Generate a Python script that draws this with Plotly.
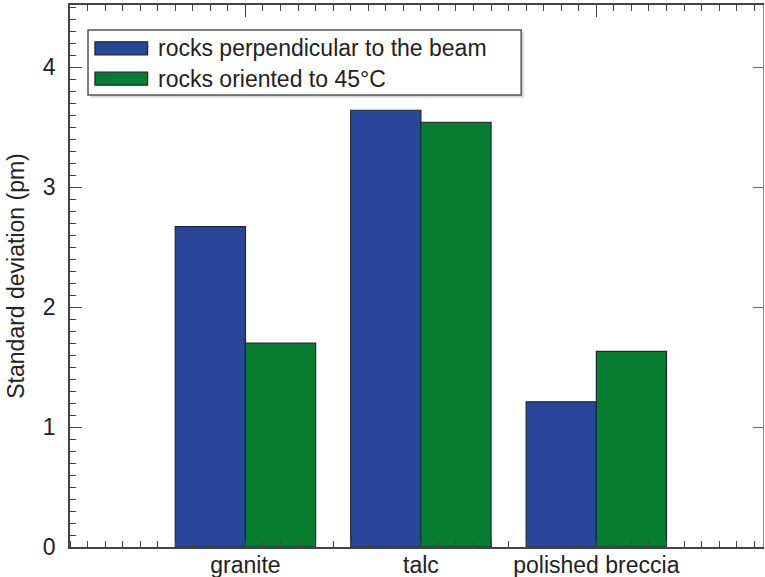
import plotly.graph_objects as go

categories = ["granite", "talc", "polished breccia"]
cat_pos = [1, 2, 3]
perpendicular = [2.67, 3.64, 1.21]
oriented45 = [1.70, 3.54, 1.63]
series_names = ["rocks perpendicular to the beam", "rocks oriented to 45°C"]

blue = "#28479b"
green = "#067d31"
edge = "#1b2633"
font = "Liberation Sans, Arial, sans-serif"
fs = 23

fig = go.Figure()
fig.add_trace(go.Bar(x=cat_pos, y=perpendicular, name=series_names[0],
                     marker=dict(color=blue, line=dict(color=edge, width=1.2))))
fig.add_trace(go.Bar(x=cat_pos, y=oriented45, name=series_names[1],
                     marker=dict(color=green, line=dict(color=edge, width=1.2))))
fig.add_trace(go.Scatter(x=[None], y=[None], xaxis="x2", yaxis="y2",
                         showlegend=False, hoverinfo="skip"))

# custom legend (wide swatches like the original)
shapes = [
    dict(type="rect", xref="paper", yref="paper", x0=0.030, x1=0.655, y0=0.829, y1=0.950,
         line=dict(width=0), fillcolor="#d8d8d8", layer="above"),
    dict(type="rect", xref="paper", yref="paper", x0=0.026, x1=0.651, y0=0.834, y1=0.954,
         line=dict(color="#555", width=1.5), fillcolor="white", layer="above"),
]
swatch_y = [(0.908, 0.932), (0.852, 0.876)]
colors = [blue, green]
annotations = []
for (y0, y1), c, name in zip(swatch_y, colors, series_names):
    shapes.append(dict(type="rect", xref="paper", yref="paper", x0=0.036, x1=0.112,
                       y0=y0, y1=y1, fillcolor=c, line=dict(color=edge, width=1.2),
                       layer="above"))
    annotations.append(dict(xref="paper", yref="paper", x=0.124, y=(y0 + y1) / 2,
                            xanchor="left", yanchor="middle", text=name, showarrow=False,
                            font=dict(size=fs, family=font, color="#222")))

fig.update_layout(
    width=765, height=577,
    margin=dict(l=70, r=2, t=5, b=30),
    paper_bgcolor="white", plot_bgcolor="white",
    barmode="group", bargap=0.2, bargroupgap=0,
    font=dict(family=font, size=fs, color="#222"),
    showlegend=False,
    shapes=shapes, annotations=annotations,
    xaxis=dict(range=[0, 3.95], tickmode="array", tickvals=cat_pos, ticktext=categories,
               ticks="", showgrid=False, zeroline=False, automargin=False,
               showline=True, linecolor="#444", linewidth=1.5,
               ticklabelstandoff=-3,
               tickfont=dict(size=fs, family=font, color="#222"),
               minor=dict(ticks="inside", ticklen=6, tickwidth=1, tickcolor="#444",
                          dtick=0.1, tick0=0, showgrid=False)),
    xaxis2=dict(range=[0, 3.95], overlaying="x", side="top", showticklabels=False,
                ticks="inside", ticklen=12, tickwidth=1.2, tickcolor="#444",
                tick0=1, dtick=2, showgrid=False, zeroline=False, automargin=False,
                showline=True, linecolor="#444", linewidth=1.5,
                minor=dict(ticks="inside", ticklen=6, tickwidth=1, tickcolor="#444",
                           dtick=0.1, tick0=0, showgrid=False)),
    yaxis=dict(range=[0, 4.517], tick0=0, dtick=1, ticks="inside", ticklen=12,
               tickwidth=1.2, tickcolor="#444", showgrid=False, zeroline=False,
               showline=True, linecolor="#444", linewidth=1.5,
               ticklabelstandoff=8,
               tickfont=dict(size=fs, family=font, color="#222"),
               title=dict(text="Standard deviation (pm)",
                          font=dict(size=fs, family=font, color="#222"), standoff=12),
               automargin=False,
               minor=dict(ticks="inside", ticklen=6, tickwidth=1, tickcolor="#444",
                          dtick=0.1, showgrid=False)),
    yaxis2=dict(range=[0, 4.517], overlaying="y", side="right", showticklabels=False,
                ticks="inside", ticklen=10, tickwidth=1.2, tickcolor="#666",
                tick0=0, dtick=1, showgrid=False, zeroline=False, automargin=False,
                showline=True, linecolor="#888", linewidth=1),
)

fig.write_html("out.html", config={"displayModeBar": False},
               post_script="document.body.style.margin='0';")
